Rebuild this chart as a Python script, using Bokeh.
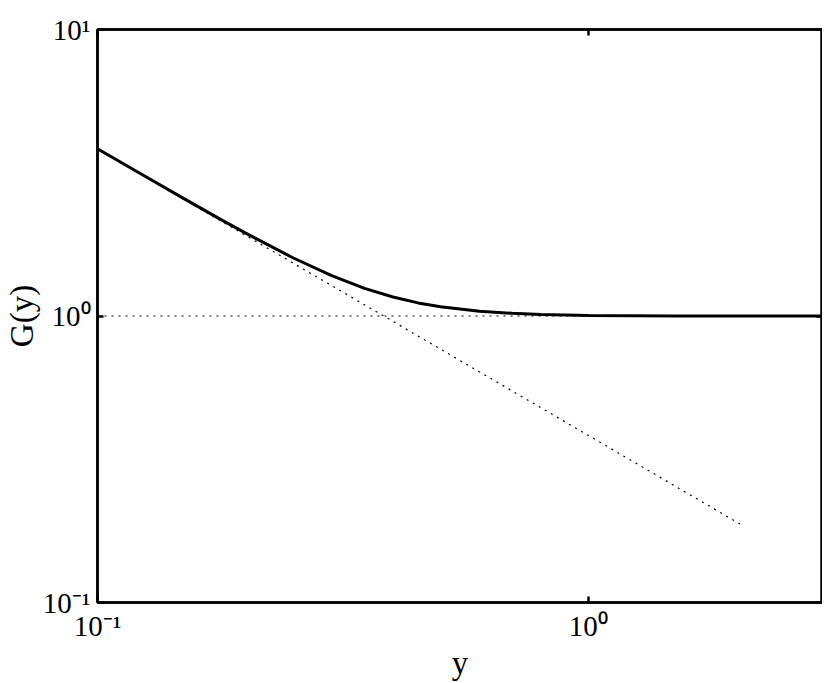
from bokeh.plotting import figure
from bokeh.models import FixedTicker, CustomJSTickFormatter, LogAxis
from bokeh.embed import file_html
from bokeh.resources import INLINE

# Data
solid_x = [0.10, 0.12, 0.15, 0.18, 0.20, 0.25, 0.30, 0.35, 0.40, 0.45, 0.50,
           0.60, 0.70, 0.80, 1.00, 1.50, 2.00, 3.00]
solid_g = [3.835, 3.200, 2.568, 2.153, 1.950, 1.597, 1.383, 1.249, 1.165,
           1.111, 1.077, 1.039, 1.022, 1.013, 1.005, 1.001, 1.000, 1.000]
asym_x = [0.10, 2.07]
asym_g = [3.83, 0.185]
unity_x = [0.10, 3.00]
unity_g = [1.0, 1.0]

x_ticks = [0.1, 1.0]
y_ticks = [0.1, 1.0, 10.0]
x_lo, x_hi = 0.1, 3.0
y_lo, y_hi = 0.1, 10.0

FONT = "Liberation Serif"

p = figure(width=822, height=683, x_axis_type="log", y_axis_type="log",
           x_range=(x_lo, x_hi), y_range=(y_lo, y_hi),
           output_backend="svg", toolbar_location=None,
           min_border_left=95, min_border_top=29, min_border_bottom=80,
           min_border_right=0)

p.grid.visible = False
p.background_fill_color = "white"
p.border_fill_color = "white"
p.outline_line_color = "black"
p.outline_line_width = 2.5

fmt_code = """
const e = Math.round(Math.log10(tick));
const sup = {"-": "\\u207b", "0": "\\u2070", "1": "\\u00b9", "2": "\\u00b2", "3": "\\u00b3",
             "4": "\\u2074", "5": "\\u2075", "6": "\\u2076", "7": "\\u2077", "8": "\\u2078", "9": "\\u2079"};
return "10" + String(e).split("").map(c => sup[c]).join("");
"""

# dotted reference lines
p.line(unity_x, unity_g, line_color="black", line_width=1.2, line_dash="2 5")
p.line(asym_x, asym_g, line_color="black", line_width=1.2, line_dash="2 5")
# main curve
p.line(solid_x, solid_g, line_color="black", line_width=3)

def style(ax, ticks, labels=True):
    ax.ticker = FixedTicker(ticks=ticks)
    ax.axis_line_color = "black"
    ax.axis_line_width = 2.5
    ax.major_tick_in = 6
    ax.major_tick_out = 0
    ax.minor_tick_in = 0
    ax.minor_tick_out = 0
    ax.major_tick_line_width = 2.5
    ax.major_tick_line_color = "black"
    ax.minor_tick_line_color = None
    ax.axis_label_standoff = 0
    if labels:
        ax.formatter = CustomJSTickFormatter(code=fmt_code)
        ax.major_label_text_font = FONT
        ax.major_label_text_font_size = "29px"
        ax.major_label_text_color = "black"
        ax.axis_label_text_font = FONT
        ax.axis_label_text_font_style = "normal"
        ax.axis_label_text_font_size = "33px"
        ax.axis_label_text_color = "black"
    else:
        ax.formatter = CustomJSTickFormatter(code='return ""')
        ax.major_label_text_font_size = "1px"
        ax.major_label_standoff = 0

style(p.xaxis[0], x_ticks)
style(p.yaxis[0], y_ticks)
p.xaxis[0].axis_label = "y"
p.yaxis[0].axis_label = "G(y)"
p.xaxis[0].major_label_standoff = 7
p.yaxis[0].major_label_standoff = 7

top = LogAxis()
style(top, x_ticks, labels=False)
p.add_layout(top, "above")
right = LogAxis()
style(right, y_ticks, labels=False)
p.add_layout(right, "right")

open("out.html", "w").write(file_html(p, INLINE))
